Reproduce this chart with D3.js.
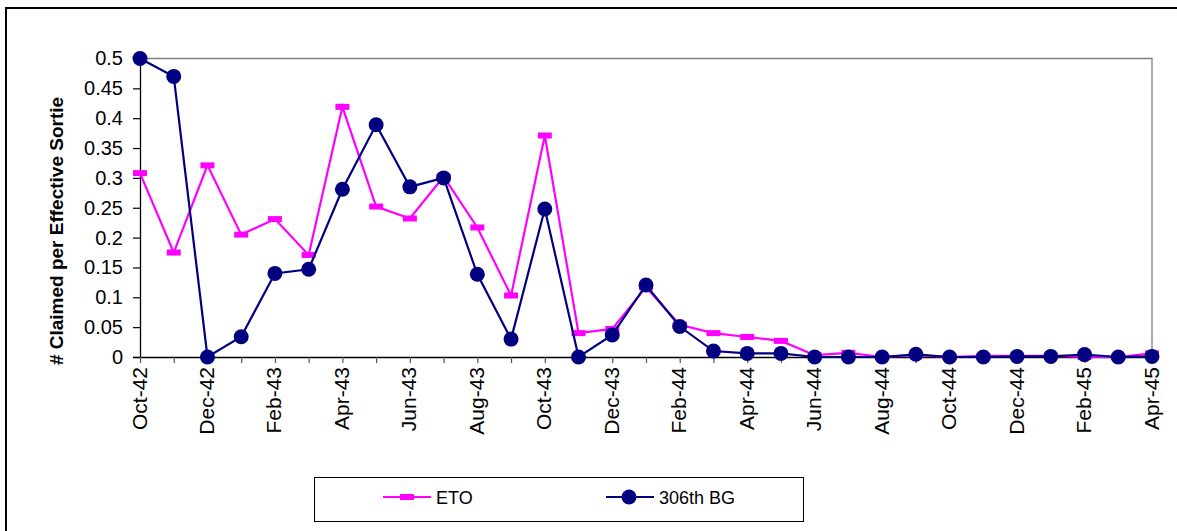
<!DOCTYPE html>
<html><head><meta charset="utf-8">
<script src="https://cdn.jsdelivr.net/npm/d3@7"></script>
<style>body{margin:0;background:#fff;}svg{display:block;font-family:Arial,"Liberation Sans",sans-serif;}</style>
</head><body>
<svg id="c" width="1177" height="531"></svg>
<script>
const months = ["Oct-42","Nov-42","Dec-42","Jan-43","Feb-43","Mar-43","Apr-43","May-43","Jun-43","Jul-43","Aug-43","Sep-43","Oct-43","Nov-43","Dec-43","Jan-44","Feb-44","Mar-44","Apr-44","May-44","Jun-44","Jul-44","Aug-44","Sep-44","Oct-44","Nov-44","Dec-44","Jan-45","Feb-45","Mar-45","Apr-45"];
const eto = [0.308,0.175,0.321,0.205,0.231,0.171,0.419,0.252,0.232,0.302,0.217,0.103,0.371,0.040,0.047,0.117,0.054,0.040,0.0335,0.027,0.003,0.007,0.0,0.003,0.0,0.002,0.002,0.002,0.0,0.0,0.006];
const bg306 = [0.5,0.47,0.0,0.034,0.140,0.147,0.281,0.389,0.285,0.300,0.1385,0.030,0.248,0.0,0.037,0.1206,0.051,0.010,0.006,0.006,0.0,0.0,0.0,0.0045,0.0,0.0,0.001,0.001,0.004,0.0,0.001];
const yTicks = [0,0.05,0.1,0.15,0.2,0.25,0.3,0.35,0.4,0.45,0.5];
const seriesNames = ["ETO","306th BG"];

const svg = d3.select("#c");
const L = 140, R = 1152, T = 58.5, B = 357;
const x = d3.scalePoint().domain(months).range([L, R]);
const y = d3.scaleLinear().domain([0, 0.5]).range([B, T]);

// outer border
svg.append("path").attr("d","M6,531 L6,8 L1177,8").attr("fill","none").attr("stroke","#000").attr("stroke-width",2);

// plot area border (top & right)
svg.append("path").attr("d",`M${L},${T} L${R},${T} L${R},${B}`).attr("fill","none").attr("stroke","#808080").attr("stroke-width",1.3);

// y axis
const ya = svg.append("g").attr("transform",`translate(${L},0)`)
  .call(d3.axisLeft(y).tickValues(yTicks).tickSize(7).tickPadding(10).tickFormat(d=>String(d)));
ya.select(".domain").attr("stroke","#000").attr("stroke-width",1.3);
ya.selectAll(".tick line").attr("stroke","#000").attr("stroke-width",1.2);
ya.selectAll(".tick text").attr("font-size",20).attr("fill","#000").attr("font-family","Arial, 'Liberation Sans', sans-serif");

// x axis
const xa = svg.append("g").attr("transform",`translate(0,${B})`)
  .call(d3.axisBottom(x).tickSize(6).tickSizeOuter(0).tickFormat(""));
xa.select(".domain").attr("stroke","#000").attr("stroke-width",1.3);
xa.selectAll(".tick line").attr("stroke","#555").attr("stroke-width",1.2);
svg.append("g").selectAll("text").data(months.filter((m,i)=>i%2===0)).join("text")
  .attr("transform",d=>`translate(${x(d)+6.5},${B+10}) rotate(-90)`)
  .attr("text-anchor","end").attr("font-size",21).attr("fill","#000").text(d=>d);

// y title
svg.append("text").attr("transform",`translate(63,231) rotate(-90)`)
  .attr("text-anchor","middle").attr("font-size",19).attr("font-weight","bold").attr("fill","#000")
  .text("# Claimed per Effective Sortie");

const line = d3.line().x((d,i)=>x(months[i])).y(d=>y(d));
const magenta = "#FF00FF", navy = "#000080";

// ETO
svg.append("path").datum(eto).attr("d",line).attr("fill","none").attr("stroke",magenta).attr("stroke-width",2.2);
svg.append("g").selectAll("rect").data(eto).join("rect")
  .attr("x",(d,i)=>x(months[i])-7).attr("y",d=>y(d)-3).attr("width",14).attr("height",6).attr("fill",magenta);

// 306th
svg.append("path").datum(bg306).attr("d",line).attr("fill","none").attr("stroke",navy).attr("stroke-width",2.2);
svg.append("g").selectAll("circle").data(bg306).join("circle")
  .attr("cx",(d,i)=>x(months[i])).attr("cy",d=>y(d)).attr("r",7.5).attr("fill",navy);

// legend
const lg = svg.append("g");
lg.append("rect").attr("x",314.5).attr("y",477.5).attr("width",489).attr("height",44).attr("fill","#fff").attr("stroke","#000").attr("stroke-width",1);
const ly = 497;
lg.append("line").attr("x1",383).attr("x2",431).attr("y1",ly).attr("y2",ly).attr("stroke",magenta).attr("stroke-width",2);
lg.append("rect").attr("x",400).attr("y",ly-3).attr("width",14).attr("height",6).attr("fill",magenta);
lg.append("text").attr("x",436).attr("y",ly+7).attr("font-size",18).attr("fill","#000").text(seriesNames[0]);
lg.append("line").attr("x1",606).attr("x2",654).attr("y1",ly).attr("y2",ly).attr("stroke",navy).attr("stroke-width",2);
lg.append("circle").attr("cx",629).attr("cy",ly).attr("r",7.5).attr("fill",navy);
lg.append("text").attr("x",659).attr("y",ly+7).attr("font-size",18).attr("fill","#000").text(seriesNames[1]);
</script>
</body></html>
